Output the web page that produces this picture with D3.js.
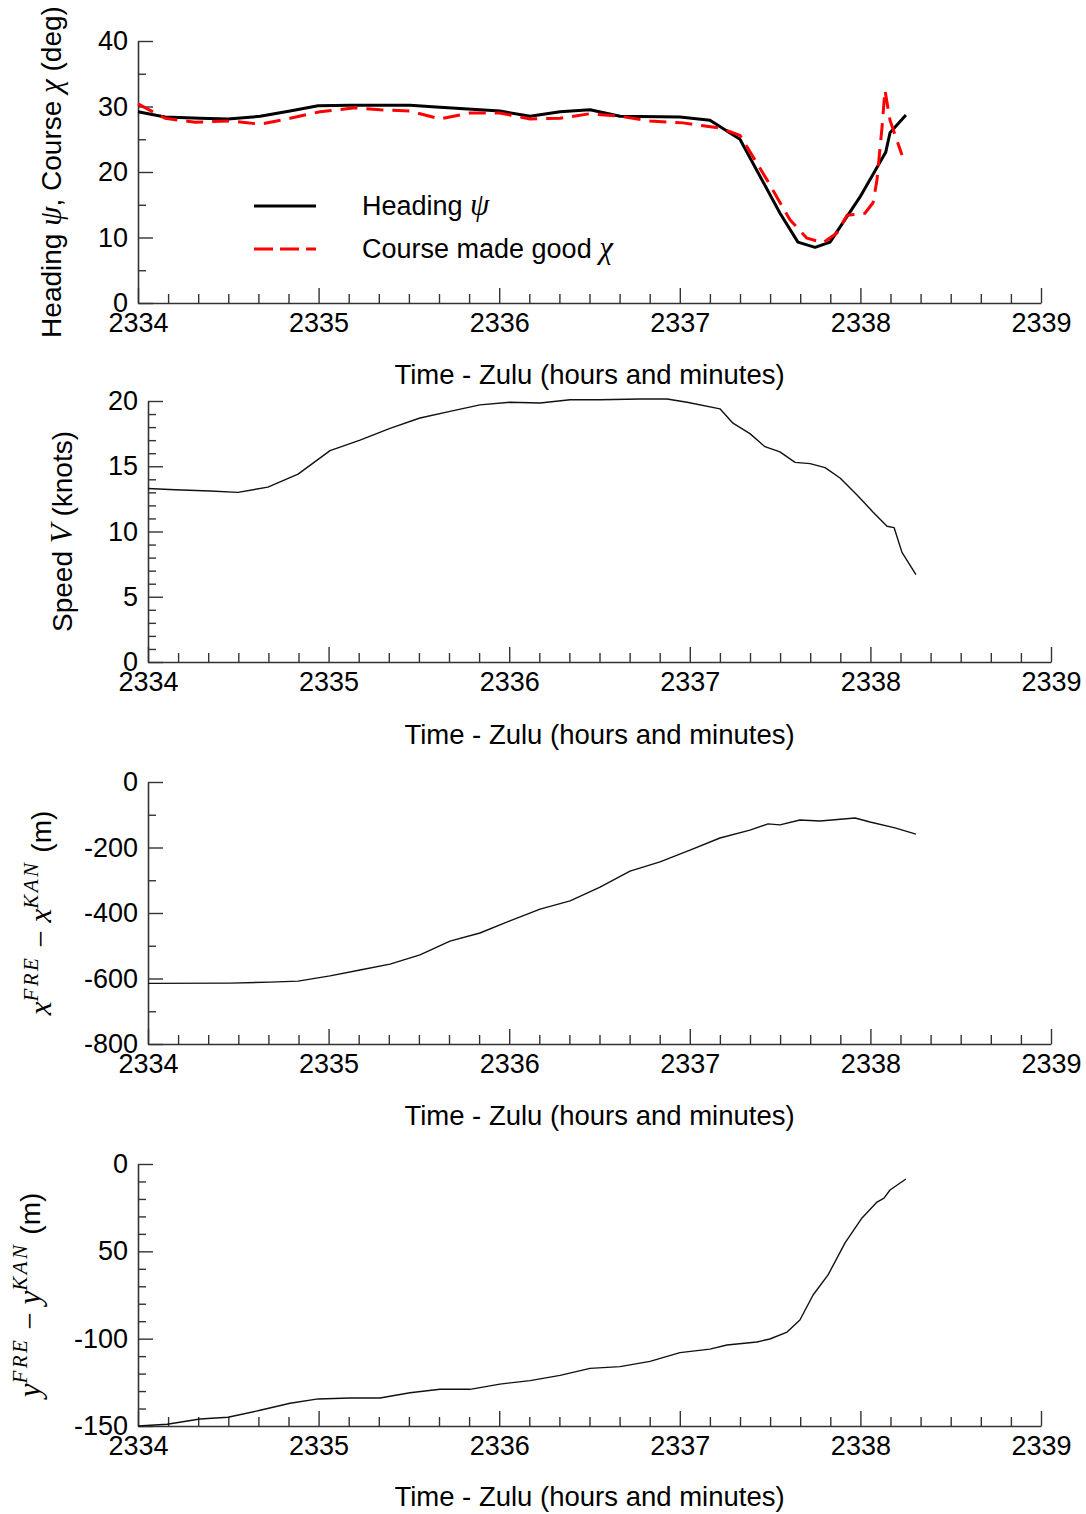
<!DOCTYPE html>
<html>
<head>
<meta charset="utf-8">
<script src="https://cdn.jsdelivr.net/npm/d3@7"></script>
<style>
  body { margin: 0; background: #fff; }
  svg text { font-family: "Liberation Sans", Arial, sans-serif; }
</style>
</head>
<body>
<svg id="chart" width="1086" height="1514"></svg>
<script>
// time in minutes after 2334 Zulu
const timeLabels = ["2334", "2335", "2336", "2337", "2338", "2339"];

const headingTime = [0, 0.15, 0.343, 0.498, 0.676, 0.842, 0.997, 1.174, 1.506, 1.672, 2.004, 2.171, 2.337, 2.503, 2.669, 3.001, 3.167, 3.333, 3.555, 3.654, 3.749, 3.832, 3.998, 4.14, 4.164, 4.252];
const headingDeg  = [29.2, 28.4, 28.2, 28.1, 28.5, 29.3, 30.1, 30.2, 30.2, 29.9, 29.3, 28.5, 29.2, 29.5, 28.5, 28.4, 27.9, 25.0, 13.7, 9.3, 8.5, 9.3, 16.2, 23.0, 26.0, 28.7];

const courseTime = [0, 0.15, 0.316, 0.509, 0.676, 0.842, 1.008, 1.202, 1.34, 1.506, 1.672, 1.838, 2.004, 2.171, 2.337, 2.503, 2.669, 2.835, 3.018, 3.223, 3.333, 3.483, 3.61, 3.704, 3.793, 3.87, 3.926, 4.025, 4.07, 4.092, 4.12, 4.136, 4.164, 4.23];
const courseDeg  = [30.4, 28.2, 27.6, 27.8, 27.3, 28.2, 29.2, 29.8, 29.5, 29.3, 28.1, 29.0, 29.0, 28.1, 28.2, 28.9, 28.5, 27.8, 27.5, 26.7, 25.6, 18.8, 12.7, 9.9, 9.2, 10.7, 13.4, 13.7, 15.3, 18.8, 26.9, 32.5, 27.9, 22.6];

const speedTime  = [0, 0.15, 0.343, 0.498, 0.664, 0.831, 1.008, 1.174, 1.34, 1.506, 1.672, 1.838, 2.004, 2.171, 2.337, 2.503, 2.724, 2.874, 2.985, 3.167, 3.239, 3.333, 3.416, 3.499, 3.583, 3.666, 3.749, 3.832, 3.926, 4.014, 4.092, 4.131, 4.175, 4.252];
const speedKnots = [13.3, 13.2, 13.1, 13.0, 13.4, 14.4, 16.2, 17.0, 17.9, 18.7, 19.2, 19.7, 19.9, 19.85, 20.1, 20.1, 20.15, 20.15, 19.9, 19.4, 18.3, 17.5, 16.5, 16.1, 15.3, 15.2, 14.9, 14.1, 12.8, 11.5, 10.4, 10.3, 8.4, 6.7];

const dxTime   = [0, 0.454, 0.676, 0.831, 1.008, 1.174, 1.34, 1.506, 1.672, 1.838, 2.004, 2.171, 2.337, 2.503, 2.669, 2.835, 3.001, 3.167, 3.333, 3.433, 3.499, 3.61, 3.721, 3.915, 3.998, 4.136, 4.252];
const dxMeters = [-615, -614, -611, -608, -592, -574, -556, -528, -486, -461, -424, -388, -363, -321, -272, -244, -208, -171, -147, -128, -131, -116, -119, -110, -122, -140, -159];

const dyTime   = [0, 0.161, 0.343, 0.498, 0.676, 0.842, 0.997, 1.174, 1.34, 1.506, 1.672, 1.838, 2.004, 2.171, 2.337, 2.503, 2.669, 2.835, 3.001, 3.167, 3.261, 3.427, 3.499, 3.594, 3.665, 3.738, 3.821, 3.915, 4.009, 4.092, 4.131, 4.164, 4.252];
const dyMeters = [-150, -149, -146, -145, -141, -137, -134.5, -134, -134, -131, -129, -129, -126, -124, -121, -117, -116, -113, -108, -106, -103.6, -101.9, -100.2, -96.2, -89.3, -75, -63.5, -45.2, -30.9, -21.8, -19.5, -14.9, -8.6];

const svg = d3.select("#chart");
const sans = "'Liberation Sans', Arial, sans-serif";
const serif = "'Liberation Serif', 'DejaVu Serif', serif";

function zip(t, v) { return t.map((d, i) => [d, v[i]]); }

function drawPanel(p) {
  const x = d3.scaleLinear().domain([0, 5]).range([p.left, p.right]);
  const y = d3.scaleLinear().domain(p.yDomain).range([p.bottom, p.top]);

  const xMinorTicks = d3.range(0, 30).filter(i => i % 6 !== 0).map(i => i / 6);

  // minor ticks first
  svg.append("g")
    .attr("transform", "translate(0," + p.bottom + ")")
    .call(d3.axisBottom(x).tickValues(xMinorTicks).tickSize(-9).tickFormat(""))
    .call(g => g.select(".domain").remove());
  svg.append("g")
    .attr("transform", "translate(" + p.left + ",0)")
    .call(d3.axisLeft(y).tickValues(p.yMinor).tickSize(-8).tickFormat(""))
    .call(g => g.select(".domain").remove());

  const gx = svg.append("g")
    .attr("transform", "translate(0," + p.bottom + ")")
    .call(d3.axisBottom(x).tickValues(d3.range(0, 6)).tickSizeInner(-15).tickSizeOuter(0)
      .tickPadding(10).tickFormat(d => timeLabels[d]));
  const gy = svg.append("g")
    .attr("transform", "translate(" + p.left + ",0)")
    .call(d3.axisLeft(y).tickValues(p.yMajor).tickSizeInner(-15).tickSizeOuter(0)
      .tickPadding(10).tickFormat((d, i) => p.yLabels[i]));

  [gx, gy].forEach(g => g.attr("font-size", 27).attr("font-family", sans));
  svg.selectAll(".tick line").attr("stroke", "#333").attr("stroke-width", 1.4);
  svg.selectAll(".domain").attr("stroke", "#333").attr("stroke-width", 1.6);
  svg.selectAll(".tick text").attr("fill", "#000");

  const line = d3.line().x(d => x(d[0])).y(d => y(d[1]));
  p.series.forEach(s => {
    svg.append("path")
      .datum(s.data)
      .attr("d", line)
      .attr("fill", "none")
      .attr("stroke", s.color)
      .attr("stroke-width", s.width)
      .attr("stroke-dasharray", s.dash || null)
      .attr("stroke-linejoin", "round");
  });

  // x title
  svg.append("text")
    .attr("x", (p.left + p.right) / 2)
    .attr("y", p.xTitleY)
    .attr("text-anchor", "middle")
    .style("font-size", "27.5px")
    .text("Time - Zulu (hours and minutes)");

  // y title
  const t = svg.append("text")
    .attr("transform", "translate(" + p.yTitleX + "," + (p.top + p.bottom) / 2 + ") rotate(-90)")
    .attr("text-anchor", "middle")
    .style("font-size", "28px");
  p.yTitle(t);
  return { x, y };
}

function math(t, s, extra) {
  const sp = t.append("tspan").style("font-family", serif).style("font-style", "italic")
    .style("font-size", "31px").text(s);
  if (extra) extra(sp);
  return sp;
}

// panel 1: heading / course
drawPanel({
  left: 138, right: 1041, top: 41, bottom: 303,
  yDomain: [0, 40], yMajor: [0, 10, 20, 30, 40], yMinor: [5, 15, 25, 35],
  yLabels: ["0", "10", "20", "30", "40"],
  xTitleY: 384, yTitleX: 61,
  yTitle: t => {
    t.append("tspan").text("Heading ");
    math(t, "ψ");
    t.append("tspan").text(", Course ");
    math(t, "χ");
    t.append("tspan").text(" (deg)");
  },
  series: [
    { data: zip(headingTime, headingDeg), color: "#000", width: 3 },
    { data: zip(courseTime, courseDeg), color: "#f00", width: 3, dash: "17,9" }
  ]
});

// legend
const legend = [
  { label: "Heading ", sym: "ψ", color: "#000", dash: null, y: 206 },
  { label: "Course made good ", sym: "χ", color: "#f00", dash: "19,7", y: 249 }
];
legend.forEach(d => {
  svg.append("line")
    .attr("x1", 254).attr("x2", 316).attr("y1", d.y).attr("y2", d.y)
    .attr("stroke", d.color).attr("stroke-width", 3).attr("stroke-dasharray", d.dash);
  const t = svg.append("text").attr("x", 362).attr("y", d.y + 9).style("font-size", "27px");
  t.append("tspan").text(d.label);
  math(t, d.sym);
});

// panel 2: speed
drawPanel({
  left: 148, right: 1051, top: 401, bottom: 662,
  yDomain: [0, 20], yMajor: [0, 5, 10, 15, 20],
  yMinor: d3.range(1, 20).filter(v => v % 5 !== 0),
  yLabels: ["0", "5", "10", "15", "20"],
  xTitleY: 744, yTitleX: 72,
  yTitle: t => {
    t.append("tspan").text("Speed ");
    math(t, "V");
    t.append("tspan").text("  (knots)");
  },
  series: [{ data: zip(speedTime, speedKnots), color: "#111", width: 1.4 }]
});

function diffTitle(t, v) {
  math(t, v);
  math(t, "FRE", s => s.attr("dy", -13).style("font-size", "21px").attr("letter-spacing", 2.5));
  t.append("tspan").attr("dy", 13).style("font-family", serif).style("font-size", "31px").text(" − ");
  math(t, v);
  math(t, "KAN", s => s.attr("dy", -13).style("font-size", "21px").attr("letter-spacing", 2.5));
  t.append("tspan").attr("dy", 13).text(" (m)");
}

// panel 3: x difference
drawPanel({
  left: 148, right: 1051, top: 782, bottom: 1044,
  yDomain: [-800, 0], yMajor: [-800, -600, -400, -200, 0], yMinor: [-700, -500, -300, -100],
  yLabels: ["-800", "-600", "-400", "-200", "0"],
  xTitleY: 1125, yTitleX: 51,
  yTitle: t => diffTitle(t, "x"),
  series: [{ data: zip(dxTime, dxMeters), color: "#111", width: 1.4 }]
});

// panel 4: y difference
drawPanel({
  left: 138, right: 1041, top: 1164, bottom: 1426,
  yDomain: [-150, 0], yMajor: [-150, -100, -50, 0],
  yMinor: d3.range(-140, 0, 10).filter(v => v % 50 !== 0),
  yLabels: ["-150", "-100", "50", "0"],
  xTitleY: 1506, yTitleX: 40,
  yTitle: t => diffTitle(t, "y"),
  series: [{ data: zip(dyTime, dyMeters), color: "#111", width: 1.4 }]
});
</script>
</body>
</html>
